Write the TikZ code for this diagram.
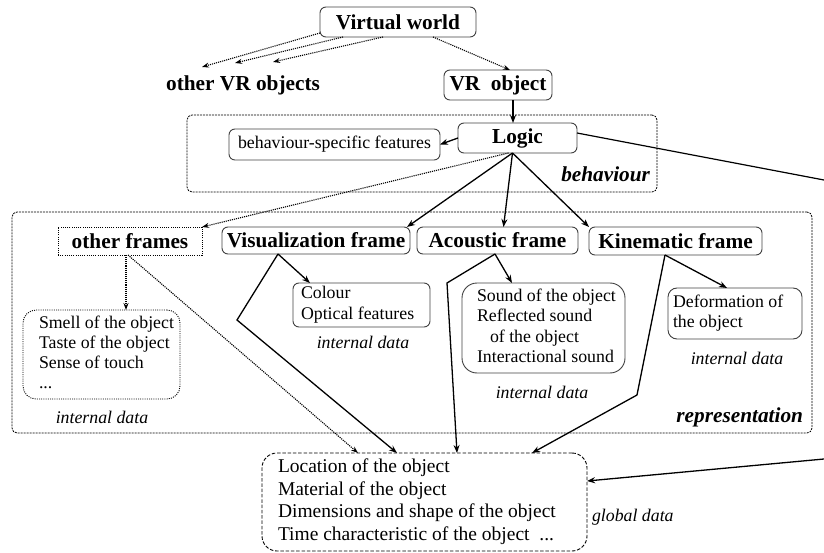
\documentclass[tikz,border=0pt]{standalone}
\usepackage{fontspec}
\setmainfont{Liberation Serif}
\usetikzlibrary{arrows.meta,calc}
\newcommand{\tblines}[2]{\makebox[#1][l]{\begin{tabular}{@{}l@{}}#2\end{tabular}}}
\begin{document}
\begin{tikzpicture}[x=1pt,y=-1pt,
  every node/.style={inner sep=0pt, outer sep=0pt},
  box/.style={draw=black!75, line width=0.9pt, rounded corners=6pt},
  ttl/.style={font=\fontsize{21.3}{24}\selectfont\bfseries},
  txt/.style={font=\fontsize{17.8}{20.5}\selectfont},
  gtxt/.style={font=\fontsize{19.5}{22.4}\selectfont},
  note/.style={font=\fontsize{17.8}{20}\selectfont\itshape},
  lbl/.style={font=\fontsize{21.3}{24}\selectfont\bfseries\itshape},
  arr/.style={line width=1.3pt, -{Stealth[length=8pt,width=6pt]}},
  ln/.style={line width=1.2pt},
  dotarr/.style={line width=1.1pt, dash pattern=on 1.1pt off 1pt, -{Stealth[length=7pt,width=5pt]}},
  region/.style={draw, line width=0.8pt, dash pattern=on 2pt off 1pt, rounded corners=5pt}
]
\useasboundingbox (0,0) rectangle (824,553);

% regions
\node[region, minimum width=470pt, minimum height=77pt] (behbox) at (422,153.5) {};
\node[region, minimum width=800pt, minimum height=221pt] (repbox) at (412,322.5) {};
\node[lbl, anchor=east] (behlbl) at (650,174) {behaviour};
\node[lbl, anchor=east] (replbl) at (803,417) {representation};

% top
\node[box, ttl, minimum width=156pt, minimum height=30pt] (vw) at (398,22) {Virtual world};
\node[ttl, minimum height=30pt] (ovr) at (243,85) {other VR objects};
\node[box, ttl, minimum width=108pt, minimum height=30pt] (vro) at (498,85) {VR\ \ object};

% behaviour
\node[box, ttl, minimum width=119pt, minimum height=30pt] (logic) at (517.5,138) {Logic};
\node[box, txt, minimum width=211pt, minimum height=31pt] (bsf) at (334.5,144.5) {behaviour-specific features};

% frames
\node[ttl, draw, line width=0.9pt, dash pattern=on 1pt off 1.2pt, minimum width=144pt, minimum height=28pt] (of) at (130,241) {other frames};
\node[box, ttl, minimum width=188pt, minimum height=27pt] (vis) at (316,240.5) {Visualization frame};
\node[box, ttl, minimum width=161pt, minimum height=27pt] (aco) at (497.5,240.5) {Acoustic frame};
\node[box, ttl, minimum width=173pt, minimum height=28pt] (kin) at (675.5,241) {Kinematic frame};

% internal data boxes
\node[box, txt, inner xsep=8pt, minimum height=44pt] (colour) at (361.5,305)
  {\tblines{121pt}{Colour\\Optical features}};
\node[note] (id1) at (363,342) {internal data};

\node[box, txt, rounded corners=15pt, inner xsep=15pt, minimum height=90pt] (sound) at (543.5,328)
  {\tblines{133pt}{Sound of the object\\Reflected sound\\\hspace*{13pt}of the object\\Interactional sound}};
\node[note] (id2) at (542,392) {internal data};

\node[box, txt, rounded corners=9pt, inner xsep=5pt, minimum height=51pt] (deform) at (735,313.5)
  {\tblines{124pt}{Deformation of\\the object}};
\node[note] (id3) at (737,358) {internal data};

\node[draw, line width=0.9pt, dash pattern=on 1pt off 1.2pt, rounded corners=13pt, font=\fontsize{17.8}{20}\selectfont, inner xsep=16pt, minimum height=89pt] (smell) at (101.5,354.5)
  {\tblines{125pt}{Smell of the object\\Taste of the object\\Sense of touch\\...}};
\node[note] (id4) at (102,417) {internal data};

% global data
\node[draw, line width=0.9pt, dash pattern=on 3.5pt off 1.8pt, rounded corners=15pt, gtxt, inner xsep=16pt, minimum height=98pt] (glob) at (424.5,502)
  {\tblines{293pt}{Location of the object\\Material of the object\\Dimensions and shape of the object\\Time characteristic of the object\ \ ...}};
\node[note, anchor=west] (gd) at (592,517) {global data};

% helper coordinates
\coordinate (edgeA) at (824,180);
\coordinate (edgeB) at (824,459);
\coordinate (cv) at (237,320);
\coordinate (ca) at (447,283);
\coordinate (ck) at (637,395);
\coordinate (ofs) at ([xshift=-4pt]of.south);

% connectors top
\draw[dotarr] ([yshift=4pt]vw.south west) -- ([xshift=-41pt,yshift=3pt]ovr.north);
\draw[dotarr] ([xshift=23pt]vw.south west) -- ([xshift=-8pt,yshift=7pt]ovr.north);
\draw[dotarr] ([xshift=63pt]vw.south west) -- ([xshift=30pt,yshift=8pt]ovr.north);
\draw[dotarr] ([xshift=113pt]vw.south west) -- ([xshift=12pt]vro.north);
\draw[arr] ([xshift=15pt]vro.south) -- ([xshift=-4.5pt]logic.north);
\draw[arr] (logic.west) -- (bsf.east);
\draw[ln] ([yshift=5pt]logic.east) -- (edgeA);
\draw[arr] (edgeB) -- ([yshift=21pt]glob.east);

% logic to frames
\draw[arr] ([xshift=-5pt]logic.south) -- ([xshift=-3pt]vis.north east);
\draw[arr] ([xshift=-5pt]logic.south) -- ([xshift=6pt]aco.north);
\draw[arr] ([xshift=-5pt]logic.south) -- (kin.north west);
\draw[dotarr] ([xshift=-9pt]logic.south) -- (of.north east);

% other frames
\draw[dotarr] (ofs) -- (ofs |- smell.north);
\draw[dotarr] ([xshift=-2pt]of.south) -- ([xshift=-66.5pt]glob.north);

% frames to data
\draw[arr] ([xshift=-38pt]vis.south) -- (cv) -- ([xshift=-27.5pt]glob.north);
\draw[arr] ([xshift=-38pt]vis.south) -- ([xshift=17pt]colour.north west);
\draw[arr] ([xshift=-2.5pt]aco.south) -- (ca) -- ([xshift=32.5pt]glob.north);
\draw[arr] ([xshift=-2.5pt]aco.south) -- ([xshift=-31.5pt]sound.north);
\draw[arr] ([xshift=-10.5pt]kin.south) -- (ck) -- ([xshift=107.5pt]glob.north);
\draw[arr] ([xshift=-10.5pt]kin.south) -- ([xshift=-8pt]deform.north);
\end{tikzpicture}
\end{document}
